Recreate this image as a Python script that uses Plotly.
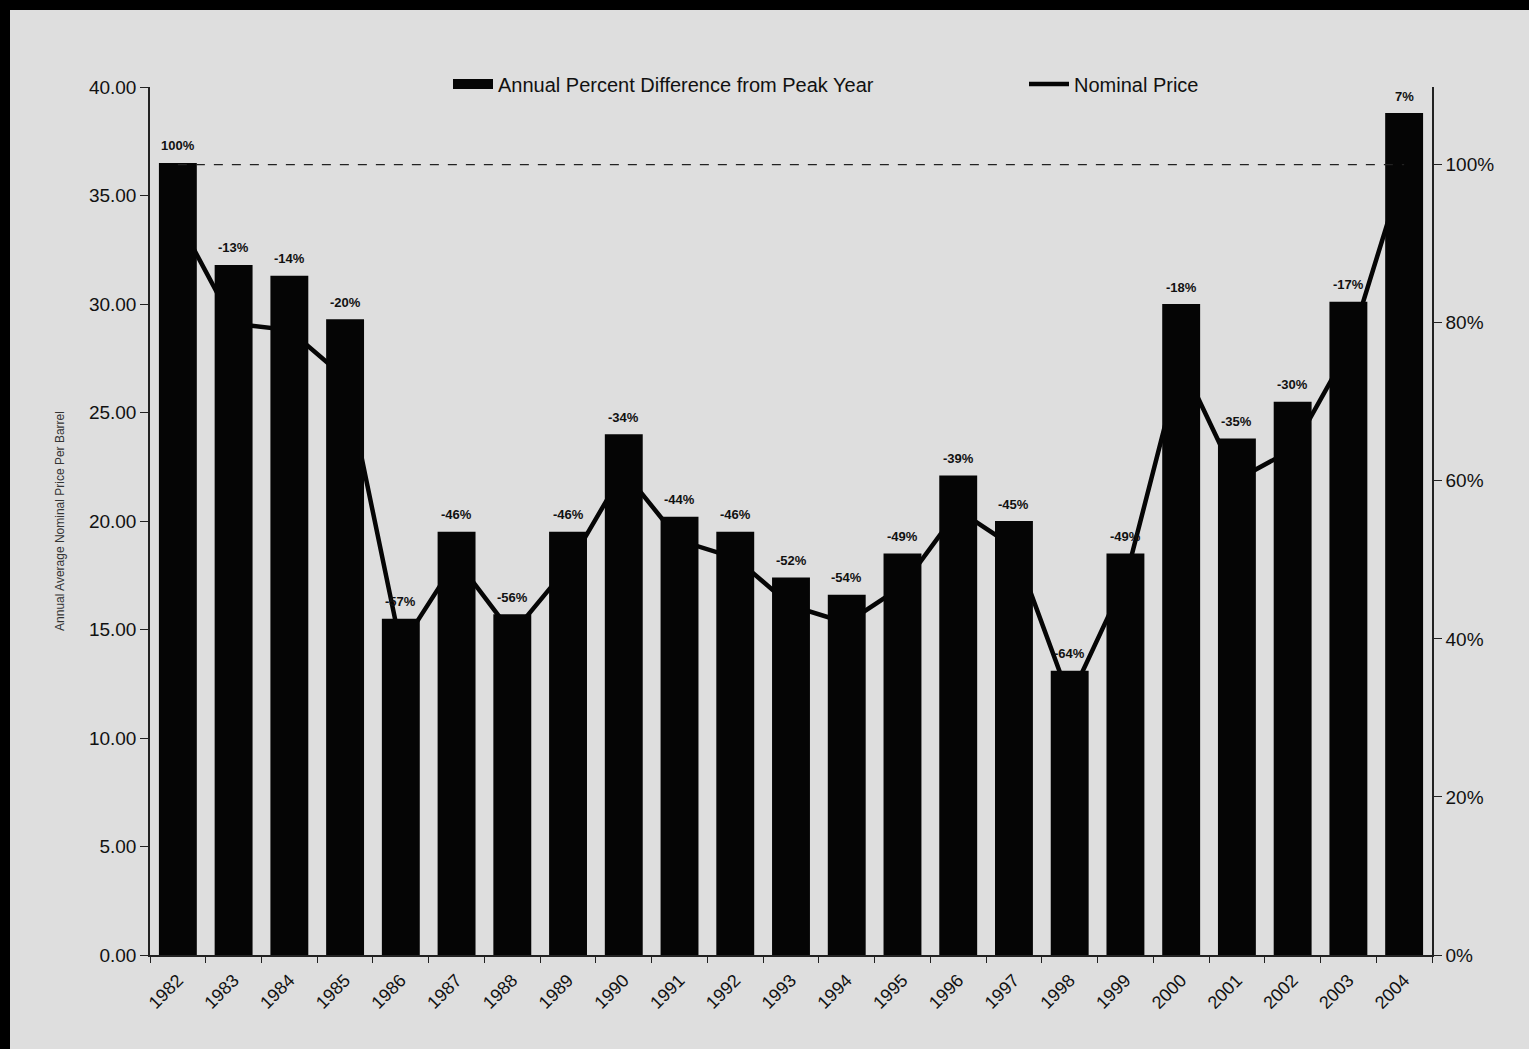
import plotly.graph_objects as go

years = [str(y) for y in range(1982, 2005)]
real_price = [36.5, 31.8, 31.3, 29.3, 15.5, 19.5, 15.7, 19.5, 24.0, 20.2, 19.5, 17.4,
              16.6, 18.5, 22.1, 20.0, 13.1, 18.5, 30.0, 23.8, 25.5, 30.1, 38.8]
pct_labels = ["100%", "-13%", "-14%", "-20%", "-57%", "-46%", "-56%", "-46%", "-34%", "-44%",
              "-46%", "-52%", "-54%", "-49%", "-39%", "-45%", "-64%", "-49%", "-18%", "-35%",
              "-30%", "-17%", "7%"]
nominal_price = [33.9, 29.1, 28.8, 26.6, 14.2, 18.2, 14.8, 17.9, 22.3, 19.1, 18.3, 16.1,
                 15.3, 17.0, 20.5, 18.8, 11.8, 17.3, 27.3, 21.9, 23.3, 27.9, 36.2]
left_ticks = [0, 5, 10, 15, 20, 25, 30, 35, 40]
right_ticks = [0, 0.2, 0.4, 0.6, 0.8, 1.0]
peak_ref = 1.0

FONT = "Liberation Sans"
BG = "#dedede"

fig = go.Figure()

fig.add_trace(go.Bar(
    x=years, y=real_price, yaxis="y2",
    name="Annual Percent Difference from Peak Year",
    marker=dict(color="#050505", line=dict(width=0)),
    showlegend=False,
))

# legend swatch for the bars (wide black block like the original)
fig.add_trace(go.Scatter(
    x=[years[0]], y=[None], yaxis="y", mode="lines",
    name="Annual Percent Difference from Peak Year",
    line=dict(color="#050505", width=13), legend="legend",
))

fig.add_trace(go.Scatter(
    x=years, y=nominal_price, yaxis="y",
    mode="lines", name="Nominal Price",
    line=dict(color="#050505", width=4.5), legend="legend2",
))

fig.add_trace(go.Scatter(
    x=[years[0], years[-1]], y=[peak_ref, peak_ref], yaxis="y3",
    mode="lines", showlegend=False, hoverinfo="skip",
    line=dict(color="#222222", width=1.2, dash="dash"),
))

annotations = [
    dict(x=i, y=v, xref="x", yref="y2", text=t, showarrow=False, yshift=17,
         font=dict(family=FONT, size=13, color="#111111", weight="bold"))
    for i, (v, t) in enumerate(zip(real_price, pct_labels))
]

left_range = [0, 40]
right_range = [0, 40 / 36.42]

W, H = 1529, 1049
ML, MR, MT, MB = 150, 97, 87, 94
PW, PH = W - ML - MR, H - MT - MB

def px_x(p):
    return (p - ML) / PW

def px_y(p):
    return (H - MB - p) / PH

legend_common = dict(
    orientation="h", xanchor="left", yanchor="middle",
    font=dict(family=FONT, size=20, color="#111111"),
    bgcolor="rgba(0,0,0,0)", itemwidth=40,
)

fig.update_layout(
    width=W, height=H,
    margin=dict(l=ML, r=MR, t=MT, b=MB),
    paper_bgcolor=BG, plot_bgcolor=BG,
    bargap=0.32,
    font=dict(family=FONT, color="#111111"),
    showlegend=True,
    legend=dict(legend_common, x=px_x(448), y=px_y(84)),
    legend2=dict(legend_common, x=px_x(1024), y=px_y(84)),
    annotations=annotations,
    xaxis=dict(
        type="category", showline=True, linecolor="#222222", linewidth=1.5,
        ticks="outside", ticklen=6, tickcolor="#222222", tickson="boundaries",
        tickangle=-45, tickfont=dict(family=FONT, size=18, color="#111111"),
        ticklabelstandoff=6,
        showgrid=False, zeroline=False, range=[-0.5, 22.5],
    ),
    yaxis=dict(
        range=left_range, visible=False, showgrid=False, zeroline=False,
    ),
    yaxis2=dict(
        overlaying="y", side="left", range=left_range,
        tickvals=left_ticks, tickformat=".2f",
        showline=True, linecolor="#222222", linewidth=1.5,
        ticks="outside", ticklen=8, tickcolor="#222222",
        tickfont=dict(family=FONT, size=19, color="#111111"),
        showgrid=False, zeroline=False,
        title=dict(text="Annual Average Nominal Price Per Barrel",
                   font=dict(family=FONT, size=12, color="#333333"), standoff=22),
    ),
    yaxis3=dict(
        overlaying="y", side="right", range=right_range,
        tickvals=right_ticks, tickformat=".0%",
        showline=True, linecolor="#222222", linewidth=1.5,
        ticks="outside", ticklen=8, tickcolor="#222222",
        tickfont=dict(family=FONT, size=19, color="#111111"),
        showgrid=False, zeroline=False,
    ),
    shapes=[
        dict(type="rect", xref="paper", yref="paper", x0=px_x(0), x1=px_x(W),
             y0=px_y(10), y1=px_y(0), fillcolor="#000000", line=dict(width=0), layer="above"),
        dict(type="rect", xref="paper", yref="paper", x0=px_x(0), x1=px_x(10),
             y0=px_y(H), y1=px_y(0), fillcolor="#000000", line=dict(width=0), layer="above"),
    ],
)

fig.write_html("out.html")
